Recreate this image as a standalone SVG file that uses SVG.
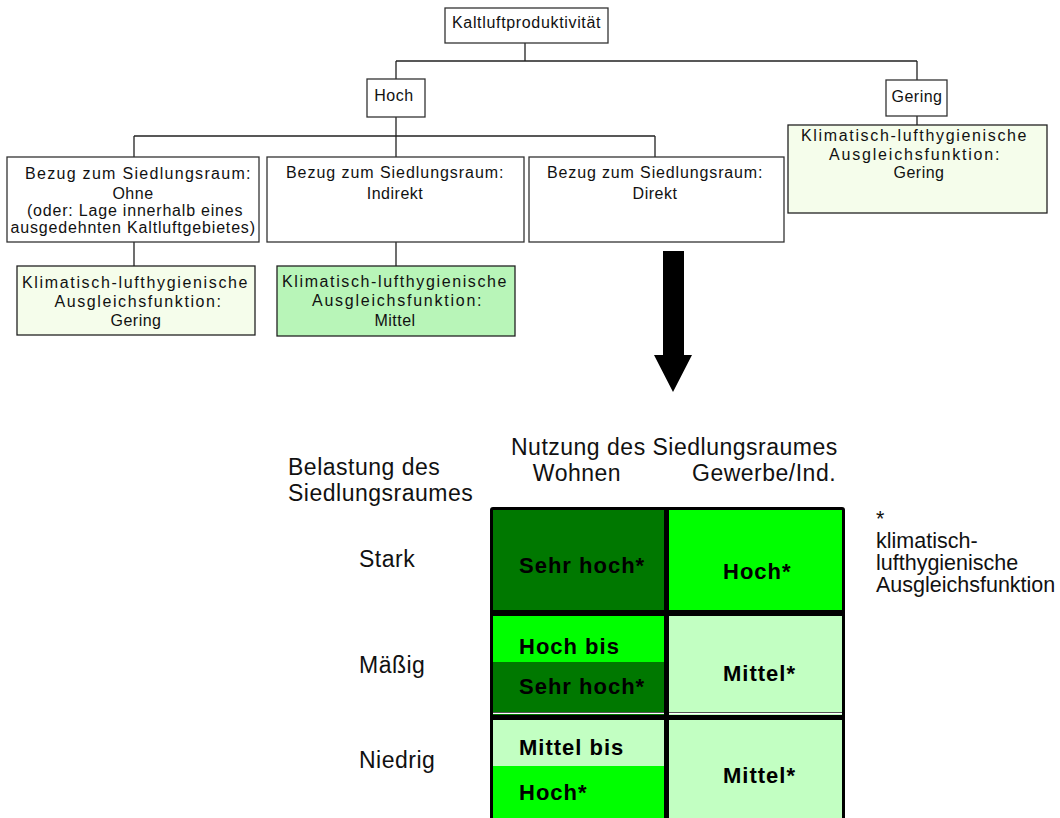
<svg xmlns="http://www.w3.org/2000/svg" width="1060" height="818" viewBox="0 0 1060 818">
<style>
.box{fill:#fff;stroke:#333;stroke-width:1.3}
.pale{fill:#f5fdeb;stroke:#222;stroke-width:1.3}
.mid{fill:#b8f5b8;stroke:#222;stroke-width:1.3}
.t{font-family:"Liberation Sans",Arial,sans-serif;font-size:16px;fill:#111;text-anchor:middle;letter-spacing:0.5px}
.lbl{font-family:"Liberation Sans",Arial,sans-serif;font-size:23px;fill:#111;letter-spacing:0.5px}
.fn{font-family:"Liberation Sans",Arial,sans-serif;font-size:21.5px;fill:#111}
.b{font-family:"Liberation Sans",Arial,sans-serif;font-size:22px;font-weight:bold;fill:#000;letter-spacing:1px}
.con{fill:none;stroke:#222;stroke-width:1.3}
</style>
<rect width="1060" height="818" fill="#fff"/>
<g id="connectors">
<path class="con" d="M525 43V61M396 61H917M396 61V79M917 61V80M396 117V136M134 136H655M134 136V157M396 136V157M655 136V157M917 116V125M134 242V266M396 242V266"/>
</g>
<g id="n-kalt"><rect class="box" x="445" y="8" width="163" height="35"/><text class="t" x="526.5" y="28" textLength="149" lengthAdjust="spacing">Kaltluftproduktivität</text></g>
<g id="n-hoch"><rect class="box" x="367" y="79" width="58" height="38"/><text class="t" x="394" y="101">Hoch</text></g>
<g id="n-gering"><rect class="box" x="886" y="80" width="61" height="36"/><text class="t" x="917" y="102">Gering</text></g>
<g id="n-ohne"><rect class="box" x="7" y="157" width="252" height="85"/>
<text class="t" x="138" y="179" textLength="226" lengthAdjust="spacing">Bezug zum Siedlungsraum:</text>
<text class="t" x="133" y="199">Ohne</text>
<text class="t" x="135" y="216" textLength="216" lengthAdjust="spacing">(oder: Lage innerhalb eines</text>
<text class="t" x="133" y="233" textLength="245" lengthAdjust="spacing">ausgedehnten Kaltluftgebietes)</text></g>
<g id="n-indirekt"><rect class="box" x="267" y="157" width="257" height="85"/>
<text class="t" x="395" y="178" textLength="218" lengthAdjust="spacing">Bezug zum Siedlungsraum:</text>
<text class="t" x="395" y="199">Indirekt</text></g>
<g id="n-direkt"><rect class="box" x="529" y="157" width="255" height="85"/>
<text class="t" x="655" y="178" textLength="216" lengthAdjust="spacing">Bezug zum Siedlungsraum:</text>
<text class="t" x="655" y="199">Direkt</text></g>
<g id="n-f1"><rect class="pale" x="17" y="266" width="238" height="69"/>
<text class="t" x="135" y="288" textLength="226" lengthAdjust="spacing">Klimatisch-lufthygienische</text>
<text class="t" x="138" y="307" textLength="167" lengthAdjust="spacing">Ausgleichsfunktion:</text>
<text class="t" x="136" y="326">Gering</text></g>
<g id="n-f2"><rect class="mid" x="277" y="266" width="238" height="70"/>
<text class="t" x="394.5" y="287" textLength="225" lengthAdjust="spacing">Klimatisch-lufthygienische</text>
<text class="t" x="397" y="306" textLength="170" lengthAdjust="spacing">Ausgleichsfunktion:</text>
<text class="t" x="395" y="326">Mittel</text></g>
<g id="n-f3"><rect class="pale" x="788" y="125" width="259" height="88"/>
<text class="t" x="914" y="141" textLength="226" lengthAdjust="spacing">Klimatisch-lufthygienische</text>
<text class="t" x="914.5" y="160" textLength="171" lengthAdjust="spacing">Ausgleichsfunktion:</text>
<text class="t" x="919" y="178">Gering</text></g>
<g id="arrow"><path d="M663 251H684V355H692L673 392L654 355H663Z" fill="#000"/></g>
<g id="table">
<rect x="490" y="507" width="355" height="320" fill="#000" rx="3"/>
<rect x="493" y="510" width="171" height="100" fill="#007800"/>
<rect x="669" y="510" width="173" height="100" fill="#00ff00"/>
<rect x="493" y="616" width="171" height="46" fill="#00ff00"/>
<rect x="493" y="662" width="171" height="53" fill="#007800"/>
<rect x="669" y="616" width="173" height="99" fill="#c2ffc2"/>
<rect x="493" y="720" width="171" height="46" fill="#c2ffc2"/>
<rect x="493" y="766" width="171" height="52" fill="#00ff00"/>
<rect x="669" y="720" width="173" height="98" fill="#c2ffc2"/>
<path d="M493 712.5H664M669 712.5H842" stroke="#555" stroke-width="1"/>
<path d="M493 713.5H664M669 713.5H842" stroke="#fff" stroke-width="1"/>
<text class="b" x="519" y="573">Sehr hoch*</text>
<text class="b" x="723" y="579">Hoch*</text>
<text class="b" x="519" y="654">Hoch bis</text>
<text class="b" x="519" y="694">Sehr hoch*</text>
<text class="b" x="723" y="681">Mittel*</text>
<text class="b" x="519" y="755">Mittel bis</text>
<text class="b" x="519" y="800">Hoch*</text>
<text class="b" x="723" y="783">Mittel*</text>
</g>
<g id="labels">
<text class="lbl" x="511" y="455">Nutzung des Siedlungsraumes</text>
<text class="lbl" x="577" y="481" text-anchor="middle">Wohnen</text>
<text class="lbl" x="692" y="481">Gewerbe/Ind.</text>
<text class="lbl" x="288" y="475">Belastung des</text>
<text class="lbl" x="288" y="501">Siedlungsraumes</text>
<text class="lbl" x="359" y="567">Stark</text>
<text class="lbl" x="359" y="673">Mäßig</text>
<text class="lbl" x="359" y="768">Niedrig</text>
<text class="fn" x="876" y="526">*</text>
<text class="fn" x="876" y="548">klimatisch-</text>
<text class="fn" x="876" y="570">lufthygienische</text>
<text class="fn" x="876" y="592">Ausgleichsfunktion</text>
</g>
</svg>
